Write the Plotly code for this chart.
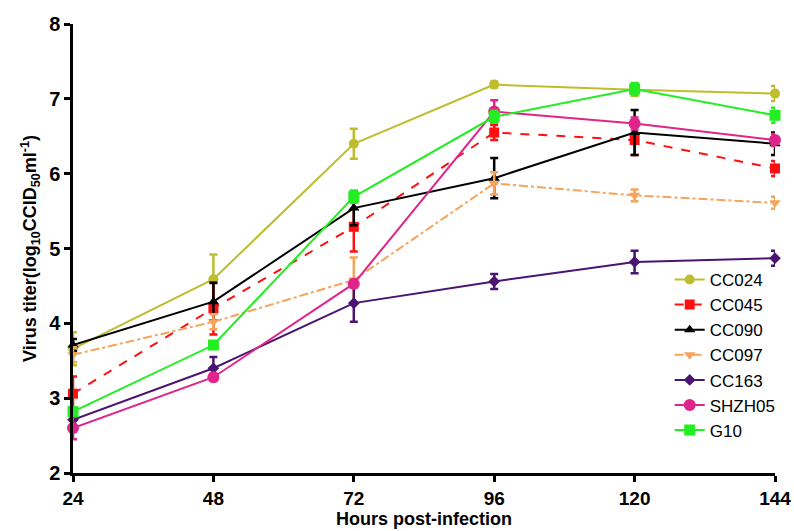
import plotly.graph_objects as go

hours = [24, 48, 72, 96, 120, 144]

names = ["CC024", "CC045", "CC090", "CC097", "CC163", "SHZH05", "G10"]

cc024 = [3.66, 4.59, 6.40, 7.19, 7.12, 7.07]
cc024_err = [0.22, 0.33, 0.20, 0.04, 0.08, 0.10]
cc045 = [3.06, 4.20, 5.29, 6.55, 6.45, 6.07]
cc045_err = [0.23, 0.35, 0.33, 0.10, 0.20, 0.10]
cc090 = [3.71, 4.29, 5.54, 5.94, 6.55, 6.40]
cc090_err = [0.08, 0.25, 0.23, 0.27, 0.30, 0.15]
cc097 = [3.58, 4.02, 4.58, 5.87, 5.71, 5.61]
cc097_err = [0.10, 0.10, 0.30, 0.15, 0.08, 0.08]
cc163 = [2.71, 3.40, 4.27, 4.56, 4.82, 4.87]
cc163_err = [0.10, 0.15, 0.25, 0.10, 0.15, 0.10]
shzh05 = [2.60, 3.28, 4.53, 6.83, 6.67, 6.45]
shzh05_err = [0.15, 0.05, 0.05, 0.15, 0.08, 0.08]
g10 = [2.82, 3.71, 5.69, 6.76, 7.13, 6.78]
g10_err = [0.05, 0.05, 0.08, 0.08, 0.08, 0.10]

series = [cc024, cc045, cc090, cc097, cc163, shzh05, g10]
errors = [cc024_err, cc045_err, cc090_err, cc097_err, cc163_err, shzh05_err, g10_err]
colors = ["#BDBD2E", "#FF1010", "#000000", "#F5A45A", "#4A1470", "#E0248A", "#22EE22"]
dashes = ["solid", "dash", "solid", "dashdot", "solid", "solid", "solid"]
symbols = ["circle", "square", "triangle-up", "triangle-down", "diamond", "circle", "square"]
sizes = [10, 10, 10, 10, 9, 12, 11]

fig = go.Figure()
for n, y, e, c, d, s, sz in zip(names, series, errors, colors, dashes, symbols, sizes):
    fig.add_trace(go.Scatter(
        x=hours, y=y, name=n, mode="lines+markers",
        line=dict(color=c, width=2, dash=d),
        marker=dict(color=c, symbol=s, size=sz),
        error_y=dict(type="data", array=e, visible=True, color=c, thickness=2.5, width=4),
        cliponaxis=False,
    ))

fig.update_layout(
    width=794, height=531,
    margin=dict(l=73, r=19, t=24, b=58),
    plot_bgcolor="white", paper_bgcolor="white",
    font=dict(family="Liberation Sans, Arial, sans-serif", color="black"),
    showlegend=True,
    legend=dict(
        x=0.85, y=0.47, xanchor="left", yanchor="top",
        font=dict(size=17, color="black"),
        bgcolor="rgba(0,0,0,0)",
        itemwidth=30, tracegroupgap=0,
    ),
    xaxis=dict(
        range=[24, 144], tickvals=hours, ticktext=[str(h) for h in hours],
        showline=True, linecolor="black", linewidth=2.5,
        ticks="outside", ticklen=6, tickwidth=2.5, tickcolor="black",
        showgrid=False, zeroline=False, automargin=False,
        tickfont=dict(size=19, family="Liberation Sans, Arial", weight="bold"),
        title=dict(text="<b>Hours post-infection</b>", font=dict(size=18), standoff=2),
    ),
    yaxis=dict(
        range=[2, 8], tickvals=[2, 3, 4, 5, 6, 7, 8],
        showline=True, linecolor="black", linewidth=2.5,
        ticks="outside", ticklen=6, tickwidth=2.5, tickcolor="black",
        showgrid=False, zeroline=False, automargin=False,
        tickfont=dict(size=20, family="Liberation Sans, Arial", weight="bold"),
        title=dict(text="<b>Virus titer(log<sub>10</sub>CCID<sub>50</sub>ml<sup>-1</sup>)</b>",
                   font=dict(size=18), standoff=8),
    ),
)

fig.write_html("out.html")
